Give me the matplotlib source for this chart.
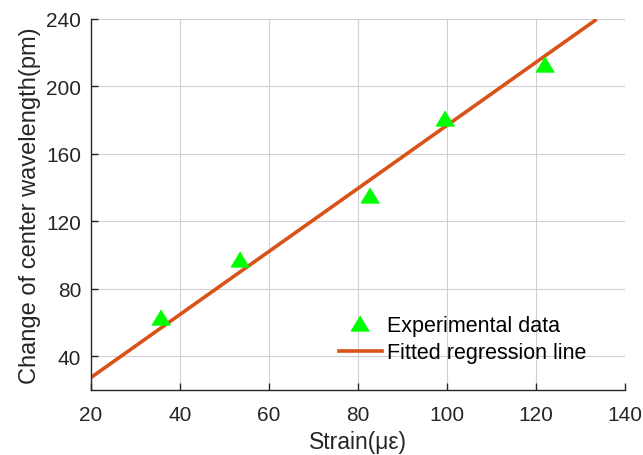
import matplotlib
matplotlib.use('Agg')
import matplotlib.pyplot as plt

plt.rcParams['font.family'] = ['Liberation Sans', 'DejaVu Sans']

# 实验数据
strain = [35.7, 53.5, 82.7, 99.6, 122.0]
wavelength_shift = [63.5, 97.6, 135.5, 181.2, 213.4]

# 拟合直线端点
fit_x = [20.0, 133.3]
fit_y = [27.4, 239.2]

text_color = '#262626'

fig = plt.figure(figsize=(6.43, 4.56), dpi=100)
ax = fig.add_axes([91 / 643, 1 - 391 / 456, 534 / 643, 371 / 456])

# MATLAB风格的三角形（略扁）
tri = [(0, 0.83), (-1, -0.83), (1, -0.83)]
ax.plot(strain, wavelength_shift, linestyle='none', marker=tri, markersize=13,
        color='#00FF00', label='Experimental data', zorder=3)
ax.plot(fit_x, fit_y, color='#D95319', linewidth=2.6, label='Fitted regression line', zorder=2)

ax.set_xlim(20, 140)
ax.set_ylim(20, 240)
ax.set_xticks([20, 40, 60, 80, 100, 120, 140])
ax.set_yticks([40, 80, 120, 160, 200, 240])

ax.grid(True, color='#d0d0d0', linewidth=0.8)
ax.set_axisbelow(True)
for side in ['top', 'right']:
    ax.spines[side].set_visible(False)
for side in ['left', 'bottom']:
    ax.spines[side].set_color(text_color)
    ax.spines[side].set_linewidth(1.0)

ax.tick_params(direction='in', length=5, width=1.0, colors=text_color,
               labelsize=15, pad=7)
ax.tick_params(axis='x', pad=11)

ax.set_xlabel('Strain(με)', fontsize=16.5, color=text_color, labelpad=4)
ax.set_ylabel('Change of center wavelength(pm)', fontsize=17, color=text_color, labelpad=4)

leg = ax.legend(loc='lower right', bbox_to_anchor=(0.928, 0.072), frameon=False,
                fontsize=15.5, handlelength=2.0, handletextpad=0.25,
                labelspacing=0.3, borderaxespad=0, borderpad=0)
for t in leg.get_texts():
    t.set_color('black')

fig.savefig('out.png', dpi=100)
